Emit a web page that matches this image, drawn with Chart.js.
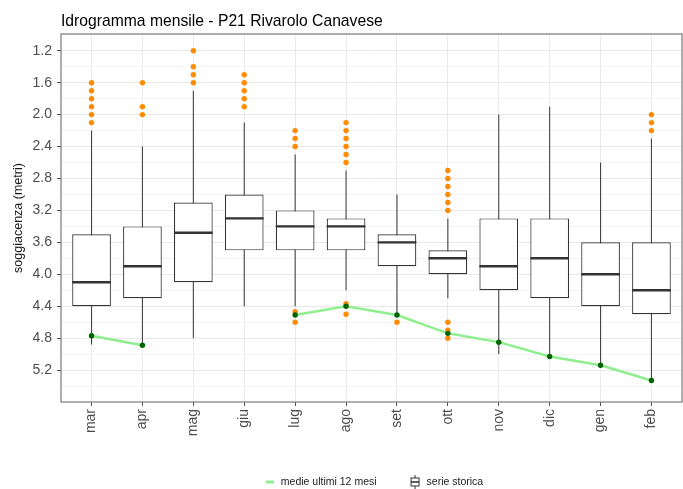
<!DOCTYPE html>
<html>
<head>
<meta charset="utf-8">
<title>Idrogramma mensile - P21 Rivarolo Canavese</title>
<script src="https://cdn.jsdelivr.net/npm/chart.js@4.4.1/dist/chart.umd.min.js"></script>
<style>
    body { margin: 0; background: #ffffff; }
    #wrap { width: 683px; height: 489px; }
</style>
</head>
<body>
<div id="wrap"><canvas id="idroChart" width="683" height="489"></canvas></div>
<script>
// Dati (soggiacenza in metri)
const months = ['mar', 'apr', 'mag', 'giu', 'lug', 'ago', 'set', 'ott', 'nov', 'dic', 'gen', 'feb'];
const whiskerTop = [2.2, 2.4, 1.7, 2.1, 2.5, 2.7, 3.0, 3.3, 2.0, 1.9, 2.6, 2.3];
const q1 = [3.5, 3.4, 3.1, 3.0, 3.2, 3.3, 3.5, 3.7, 3.3, 3.3, 3.6, 3.6];
const medians = [4.1, 3.9, 3.48, 3.3, 3.4, 3.4, 3.6, 3.8, 3.9, 3.8, 4.0, 4.2];
const q3 = [4.4, 4.3, 4.1, 3.7, 3.7, 3.7, 3.9, 4.0, 4.2, 4.3, 4.4, 4.5];
const whiskerBottom = [4.88, 4.9, 4.8, 4.4, 4.4, 4.2, 4.51, 4.3, 5.0, 5.04, 5.14, 5.33];
const outliers = [
    [1.6, 1.7, 1.8, 1.9, 2.0, 2.1],
    [1.6, 1.9, 2.0],
    [1.2, 1.4, 1.5, 1.6],
    [1.5, 1.6, 1.7, 1.8, 1.9],
    [2.2, 2.3, 2.4, 4.47, 4.6],
    [2.1, 2.2, 2.3, 2.4, 2.5, 2.6, 4.37, 4.5],
    [4.6],
    [2.7, 2.8, 2.9, 3.0, 3.1, 3.2, 4.6, 4.7, 4.8],
    [],
    [],
    [],
    [2.0, 2.1, 2.2]
];
const recentMeans = [4.77, 4.89, null, null, 4.51, 4.40, 4.51, 4.74, 4.85, 5.03, 5.14, 5.33];

// Tick
const majorTicks = [1.2, 1.6, 2.0, 2.4, 2.8, 3.2, 3.6, 4.0, 4.4, 4.8, 5.2];
const minorTicks = [1.0, 1.4, 1.8, 2.2, 2.6, 3.0, 3.4, 3.8, 4.2, 4.6, 5.0, 5.4];

const FONT = "'Liberation Sans', Arial, Helvetica, sans-serif";
const BOX_COLOR = '#333333';
const LINE_GREEN = '#90ee90';
const POINT_GREEN = '#006400';
const OUTLIER_ORANGE = '#ff8c00';

// Baffi e mediane dei boxplot
const boxWhiskers = {
    id: 'boxWhiskers',
    beforeDatasetsDraw(chart) {
        const ctx = chart.ctx;
        const y = chart.scales.y;
        const area = chart.chartArea;
        const meta = chart.getDatasetMeta(0);
        ctx.save();
        ctx.beginPath();
        ctx.rect(area.left, area.top, area.right - area.left, area.bottom - area.top);
        ctx.clip();
        ctx.strokeStyle = '#444444';
        ctx.lineWidth = 1.1;
        meta.data.forEach((bar, i) => {
            ctx.beginPath();
            ctx.moveTo(bar.x, y.getPixelForValue(whiskerTop[i]));
            ctx.lineTo(bar.x, y.getPixelForValue(whiskerBottom[i]));
            ctx.stroke();
        });
        ctx.restore();
    },
    afterDatasetDraw(chart, args) {
        if (args.index !== 0) return;
        const ctx = chart.ctx;
        const y = chart.scales.y;
        ctx.save();
        ctx.strokeStyle = BOX_COLOR;
        ctx.lineWidth = 2.4;
        args.meta.data.forEach((bar, i) => {
            const py = y.getPixelForValue(medians[i]);
            ctx.beginPath();
            ctx.moveTo(bar.x - bar.width / 2, py);
            ctx.lineTo(bar.x + bar.width / 2, py);
            ctx.stroke();
        });
        ctx.restore();
    }
};

// Cornice, titolo e legenda in stile ggplot
const frameAndLegend = {
    id: 'frameAndLegend',
    afterDraw(chart) {
        const ctx = chart.ctx;
        const area = chart.chartArea;
        ctx.save();

        ctx.strokeStyle = '#7a7a7a';
        ctx.lineWidth = 1.2;
        ctx.strokeRect(area.left, area.top, area.right - area.left, area.bottom - area.top);

        ctx.fillStyle = '#000000';
        ctx.font = '15.7px ' + FONT;
        ctx.textAlign = 'left';
        ctx.textBaseline = 'alphabetic';
        ctx.fillText('Idrogramma mensile - P21 Rivarolo Canavese', area.left, 26);

        const lineLabel = chart.data.datasets[2].label;
        const boxLabel = chart.data.datasets[0].label;
        ctx.font = '10.5px ' + FONT;
        const w1 = ctx.measureText(lineLabel).width;
        const w2 = ctx.measureText(boxLabel).width;
        const total = 8 + 7 + w1 + 34 + 9 + 7 + w2;
        const cy = chart.height - 7;
        let x = (area.left + area.right) / 2 + 3 - total / 2;

        ctx.strokeStyle = LINE_GREEN;
        ctx.lineWidth = 3;
        ctx.beginPath();
        ctx.moveTo(x, cy);
        ctx.lineTo(x + 8, cy);
        ctx.stroke();
        x += 15;
        ctx.fillStyle = '#1a1a1a';
        ctx.textBaseline = 'middle';
        ctx.fillText(lineLabel, x, cy);
        x += w1 + 34;

        ctx.strokeStyle = BOX_COLOR;
        ctx.lineWidth = 1;
        ctx.beginPath();
        ctx.moveTo(x + 4.5, cy - 7);
        ctx.lineTo(x + 4.5, cy - 4);
        ctx.moveTo(x + 4.5, cy + 4);
        ctx.lineTo(x + 4.5, cy + 7);
        ctx.stroke();
        ctx.strokeRect(x + 0.5, cy - 4, 8, 8);
        ctx.lineWidth = 1.6;
        ctx.beginPath();
        ctx.moveTo(x + 0.5, cy);
        ctx.lineTo(x + 8.5, cy);
        ctx.stroke();
        x += 16;
        ctx.fillText(boxLabel, x, cy);

        ctx.restore();
    }
};

const outlierPoints = [];
outliers.forEach((list, i) => {
    list.forEach(v => outlierPoints.push({ x: i, y: v }));
});

const ctx = document.getElementById('idroChart').getContext('2d');
new Chart(ctx, {
    type: 'bar',
    data: {
        datasets: [
            {
                label: 'serie storica',
                data: months.map((m, i) => ({ x: i, y: [q1[i], q3[i]] })),
                backgroundColor: '#ffffff',
                borderColor: BOX_COLOR,
                borderWidth: 1.2,
                borderSkipped: false,
                categoryPercentage: 1,
                barPercentage: 0.76,
                order: 2
            },
            {
                type: 'scatter',
                label: 'outlier',
                data: outlierPoints,
                backgroundColor: OUTLIER_ORANGE,
                borderWidth: 0,
                pointRadius: 2.7,
                order: 1
            },
            {
                type: 'line',
                label: 'medie ultimi 12 mesi',
                data: months.map((m, i) => ({ x: i, y: recentMeans[i] })),
                borderColor: LINE_GREEN,
                borderWidth: 2.5,
                pointBackgroundColor: POINT_GREEN,
                pointBorderWidth: 0,
                pointRadius: 2.7,
                spanGaps: false,
                tension: 0,
                order: 0
            }
        ]
    },
    options: {
        responsive: false,
        animation: false,
        events: [],
        layout: {
            autoPadding: false,
            padding: { top: 34, right: 1, bottom: 42, left: 0 }
        },
        plugins: {
            legend: { display: false },
            title: { display: false },
            tooltip: { enabled: false }
        },
        scales: {
            x: {
                type: 'linear',
                min: -0.6,
                max: 11.6,
                offset: false,
                afterBuildTicks: scale => {
                    scale.ticks = months.map((m, i) => ({ value: i }));
                },
                afterFit: scale => {
                    scale.height = 45;
                    scale.paddingLeft = 0;
                    scale.paddingRight = 0;
                },
                grid: {
                    offset: false,
                    color: '#ebebeb',
                    lineWidth: 1,
                    tickLength: 4,
                    tickColor: '#555555'
                },
                border: { display: false },
                ticks: {
                    autoSkip: false,
                    maxRotation: 90,
                    minRotation: 90,
                    padding: 3,
                    color: '#4d4d4d',
                    font: { family: FONT, size: 14 },
                    callback: value => months[value]
                }
            },
            y: {
                type: 'linear',
                reverse: true,
                min: 0.99,
                max: 5.6,
                beginAtZero: false,
                afterBuildTicks: scale => {
                    scale.ticks = minorTicks.concat(majorTicks)
                        .sort((a, b) => a - b)
                        .map(v => ({ value: v }));
                },
                afterFit: scale => { scale.width = 61; },
                grid: {
                    color: c => majorTicks.includes(c.tick.value) ? '#e8e8e8' : '#f3f3f3',
                    lineWidth: 1,
                    tickLength: 4,
                    tickColor: c => majorTicks.includes(c.tick.value) ? '#555555' : 'rgba(0,0,0,0)'
                },
                border: { display: false },
                ticks: {
                    autoSkip: false,
                    padding: 5,
                    color: '#4d4d4d',
                    font: { family: FONT, size: 14 },
                    callback: value => majorTicks.includes(value) ? value.toFixed(1) : ''
                },
                title: {
                    display: true,
                    text: 'soggiacenza (metri)',
                    color: '#1a1a1a',
                    font: { family: FONT, size: 12.5 },
                    padding: { top: 11, bottom: 0 }
                }
            }
        }
    },
    plugins: [boxWhiskers, frameAndLegend]
});
</script>
</body>
</html>
